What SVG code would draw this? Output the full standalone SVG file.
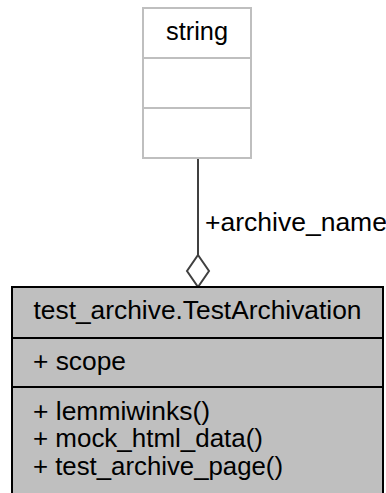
<svg xmlns="http://www.w3.org/2000/svg" width="386" height="493" viewBox="0 0 386 493">
<style>
text{font-family:"Liberation Sans",Arial,sans-serif;font-size:26.5px;fill:#000}
.gray{fill:#fff;stroke:#bfbfbf;stroke-width:2}
.main{fill:#bfbfbf;stroke:#000;stroke-width:2}
.edge{stroke:#404040;stroke-width:2;fill:none}
</style>
<rect width="386" height="493" fill="#fff"/>
<g id="connectors">
<line class="edge" x1="198" y1="158" x2="198" y2="255"/>
<polygon class="edge" points="198,255 209,271 198,287 187,271" fill="#fff"/>
<text x="205" y="231" font-size="25">+archive_name</text>
</g>
<g id="string">
<rect class="gray" x="143" y="8" width="108" height="150"/>
<line class="gray" x1="143" y1="58" x2="251" y2="58"/>
<line class="gray" x1="143" y1="108" x2="251" y2="108"/>
<text x="166" y="40" textLength="62" lengthAdjust="spacingAndGlyphs">string</text>
</g>
<g id="TestArchivation">
<rect class="main" x="12" y="287" width="371" height="222"/>
<line class="main" x1="12" y1="338" x2="383" y2="338"/>
<line class="main" x1="12" y1="387" x2="383" y2="387"/>
<text x="33.5" y="319" textLength="328" lengthAdjust="spacingAndGlyphs">test_archive.TestArchivation</text>
<text x="33" y="370" textLength="93" lengthAdjust="spacingAndGlyphs">+ scope</text>
<text x="33" y="419.5" textLength="177" lengthAdjust="spacingAndGlyphs">+ lemmiwinks()</text>
<text x="33" y="447" textLength="230" lengthAdjust="spacingAndGlyphs">+ mock_html_data()</text>
<text x="33" y="474.5" textLength="250" lengthAdjust="spacingAndGlyphs">+ test_archive_page()</text>
</g>
</svg>
